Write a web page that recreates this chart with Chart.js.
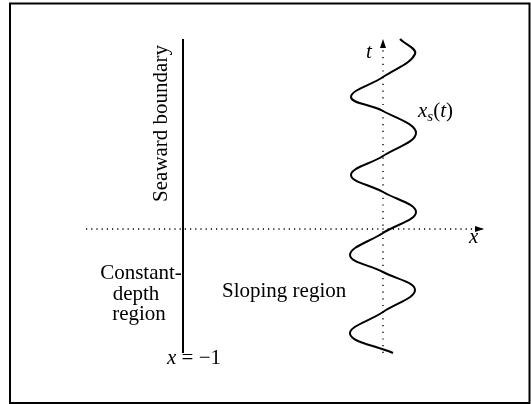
<!DOCTYPE html>
<html>
<head>
<meta charset="utf-8">
<script src="https://cdn.jsdelivr.net/npm/chart.js@4"></script>
<style>
  body { margin: 0; background: #fff; }
  canvas { display: block; }
</style>
</head>
<body>
<canvas id="sketch" width="531" height="404"></canvas>
<script>
var sketch = document.getElementById('sketch');

// shoreline x_s(t) (x, t)
const waveX = [0.085, 0.16, 0, -0.16, 0, 0.165, 0, -0.16, 0, 0.165, 0, -0.165, 0, 0.16, 0, -0.165, 0.05];
const waveT = [0.95, 0.875, 0.76, 0.66, 0.59, 0.48, 0.365, 0.27, 0.185, 0.085, -0.02, -0.13, -0.215, -0.305, -0.415, -0.525, -0.62];

// seaward boundary at x = -1
const boundaryX = [-1, -1];
const boundaryT = [0.95, -0.62];

// dotted axes
const xAxisX = [-1.485, 0.505];
const xAxisT = [0, 0];
const tAxisX = [0, 0];
const tAxisT = [-0.62, 0.95];

function pts(xs, ts) {
  return xs.map(function (x, i) { return { x: x, y: ts[i] }; });
}

const serif = '"Liberation Serif", "DejaVu Serif", serif';

// text labels, placed in data coordinates
const labels = [
  { at: [-1.08, 0.5275], rot: -Math.PI / 2, align: 'center', parts: [{ t: 'Seaward boundary' }] },
  { at: [-1.21, -0.25], align: 'center', parts: [{ t: 'Constant-' }] },
  { at: [-1.235, -0.355], align: 'center', parts: [{ t: 'depth' }] },
  { at: [-1.22, -0.455], align: 'center', parts: [{ t: 'region' }] },
  { at: [-0.805, -0.34], parts: [{ t: 'Sloping region' }] },
  { at: [-1.08, -0.675], parts: [{ t: 'x', it: true }, { t: ' = \u22121' }] },
  { at: [-0.085, 0.855], parts: [{ t: 't', it: true }] },
  { at: [0.175, 0.56], parts: [{ t: 'x', it: true }, { t: 's', it: true, size: 15, dy: 4 }, { t: '(' }, { t: 't', it: true }, { t: ')' }] },
  { at: [0.43, -0.07], parts: [{ t: 'x', it: true }] }
];

function partFont(p) {
  return (p.it ? 'italic ' : '') + (p.size || 21) + 'px ' + serif;
}

const decor = {
  id: 'decor',
  afterDraw: function (chart) {
    var ctx = chart.ctx;
    var xs = chart.scales.x, ys = chart.scales.y;

    // arrow heads on the axes
    chart.data.datasets.forEach(function (ds, i) {
      if (!ds.arrow) return;
      var el = chart.getDatasetMeta(i).data;
      var a = el[el.length - 2], b = el[el.length - 1];
      var dx = b.x - a.x, dy = b.y - a.y;
      var len = Math.sqrt(dx * dx + dy * dy);
      dx /= len; dy /= len;
      var bx = b.x - dx * 9, by = b.y - dy * 9;
      ctx.save();
      ctx.fillStyle = '#000';
      ctx.beginPath();
      ctx.moveTo(b.x, b.y);
      ctx.lineTo(bx - dy * 3, by + dx * 3);
      ctx.lineTo(bx + dy * 3, by - dx * 3);
      ctx.closePath();
      ctx.fill();
      ctx.restore();
    });

    // labels
    labels.forEach(function (lb) {
      ctx.save();
      ctx.fillStyle = '#000';
      ctx.textBaseline = 'alphabetic';
      ctx.translate(xs.getPixelForValue(lb.at[0]), ys.getPixelForValue(lb.at[1]));
      if (lb.rot) ctx.rotate(lb.rot);
      var total = 0;
      lb.parts.forEach(function (p) { ctx.font = partFont(p); total += ctx.measureText(p.t).width; });
      var cx = lb.align === 'center' ? -total / 2 : 0;
      ctx.textAlign = 'left';
      lb.parts.forEach(function (p) {
        ctx.font = partFont(p);
        ctx.fillText(p.t, cx, p.dy || 0);
        cx += ctx.measureText(p.t).width;
      });
      ctx.restore();
    });

    // frame
    ctx.save();
    ctx.strokeStyle = '#000';
    ctx.lineWidth = 2;
    ctx.strokeRect(10, 3.5, 519.5, 399.5);
    ctx.restore();
  }
};

var chart = new Chart(sketch, {
  type: 'scatter',
  data: {
    datasets: [{
      data: pts(xAxisX, xAxisT),
      showLine: true,
      borderColor: '#000',
      borderWidth: 1.4,
      borderDash: [1.2, 4],
      pointRadius: 0,
      arrow: true
    }, {
      data: pts(tAxisX, tAxisT),
      showLine: true,
      borderColor: '#000',
      borderWidth: 1.4,
      borderDash: [1.2, 5.5],
      pointRadius: 0,
      arrow: true
    }, {
      data: pts(boundaryX, boundaryT),
      showLine: true,
      borderColor: '#000',
      borderWidth: 2,
      pointRadius: 0
    }, {
      data: pts(waveX, waveT),
      showLine: true,
      borderColor: '#000',
      borderWidth: 2,
      tension: 0.4,
      pointRadius: 0
    }]
  },
  options: {
    responsive: false,
    animation: false,
    devicePixelRatio: 1,
    layout: { padding: { left: 83, right: 48, top: 29, bottom: 35 } },
    plugins: { legend: { display: false }, tooltip: { enabled: false } },
    scales: {
      x: { type: 'linear', min: -1.5, max: 0.5, display: false },
      y: { type: 'linear', min: -0.7, max: 1.0, display: false }
    }
  },
  plugins: [decor]
});
</script>
</body>
</html>
